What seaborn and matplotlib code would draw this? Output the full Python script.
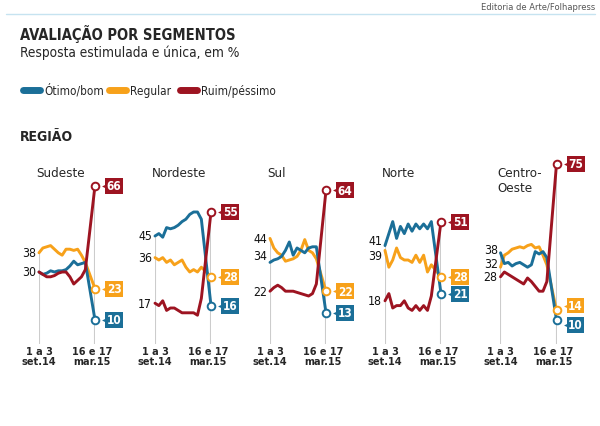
import matplotlib
matplotlib.use('Agg')
import matplotlib.pyplot as plt
import pandas as pd
import seaborn as sns
from matplotlib.lines import Line2D
from matplotlib.transforms import offset_copy

# poll positions (13 tracking polls set-dez/14, then mar/15)
poll_pos = [0, 1, 2, 3, 4, 5, 6, 7, 8, 9, 10, 11, 12, 14.5]

segments = ['Ótimo/bom', 'Regular', 'Ruim/péssimo']
colors = {'Ótimo/bom': '#1b6f98', 'Regular': '#f7a11a', 'Ruim/péssimo': '#9d1421'}

regions = ['Sudeste', 'Nordeste', 'Sul', 'Norte', 'Centro-\nOeste']

sudeste_otimo = [30, 29, 29.5, 30.5, 30, 30.5, 30.5, 31, 32.5, 34.5, 33, 33.5, 34, 10]
sudeste_regular = [38, 40, 40.5, 41, 39.5, 38, 37, 39.5, 39.5, 39, 39.5, 37, 34, 23]
sudeste_ruim = [30, 29, 28, 28, 28.5, 29.5, 30, 30, 28, 25, 26.5, 28, 31, 66]

nordeste_otimo = [45, 46, 44.5, 48.5, 48, 48.5, 49.5, 51, 52, 54, 55, 55, 52, 16]
nordeste_regular = [36, 35, 36, 34, 35, 33, 34, 35, 32, 30, 31, 30, 32, 28]
nordeste_ruim = [17, 16, 18, 14, 15, 15, 14, 13, 13, 13, 13, 12, 19, 55]

sul_otimo = [34, 35, 35.5, 36.5, 39, 42.5, 37, 40, 39, 38, 40, 40.5, 40.5, 13]
sul_regular = [44, 40, 38, 37, 34.5, 35, 35.5, 36.5, 39, 43.5, 39, 38, 35.5, 22]
sul_ruim = [22, 23.5, 24.5, 23.5, 22, 22, 22, 21.5, 21, 20.5, 20, 21, 25, 64]

norte_otimo = [41, 46, 51, 44, 49, 46, 50, 47, 50, 48, 50, 48, 51, 21]
norte_regular = [39, 32, 35, 40, 36, 35, 35, 34, 37, 34, 37, 30, 33, 28]
norte_ruim = [18, 21, 15, 16, 16, 18, 15, 14, 16, 14, 16, 14, 20, 51]

co_otimo = [38, 33.5, 34, 32.5, 33.5, 34, 33, 32, 33, 38.5, 37.5, 38.5, 36, 10]
co_regular = [32, 37, 38, 39.5, 40, 40.5, 40, 41, 41.5, 40, 40.5, 37, 33, 14]
co_ruim = [28, 30, 29, 28, 27, 26, 25, 27.5, 26, 24, 22, 22, 26, 75]

region_data = [
    (sudeste_otimo, sudeste_regular, sudeste_ruim),
    (nordeste_otimo, nordeste_regular, nordeste_ruim),
    (sul_otimo, sul_regular, sul_ruim),
    (norte_otimo, norte_regular, norte_ruim),
    (co_otimo, co_regular, co_ruim),
]

# label nudges (points): start labels / end boxes
start_shift = [(0, 0, 0), (0, 0, 0), (5, 0, 0), (4, -4, 0), (2.5, 2.5, 0)]
end_shift = [(0, 0, 0), (0, 0, 0), (0, 0, 0), (0, 0, 0), (-3.5, 3.5, 0)]

sns.set_theme(style='white')
plt.rcParams['font.family'] = ['DejaVu Sans']
plt.rcParams['font.stretch'] = 'condensed'

W, H = 600, 427
fig = plt.figure(figsize=(W / 100, H / 100), dpi=100)


def fx(px):
    return px / W


def fy(py):
    return 1 - py / H


# header
fig.text(fx(595), fy(7), 'Editoria de Arte/Folhapress', ha='right', va='center',
         fontsize=6, color='#555555', fontstretch='normal')
fig.add_artist(Line2D([fx(6), fx(595)], [fy(15), fy(15)], color='#c6e3f0', lw=1))
fig.text(fx(20), fy(34), 'AVALIAÇÃO POR SEGMENTOS', ha='left', va='center',
         fontsize=10.5, fontweight='bold')
fig.text(fx(20), fy(53), 'Resposta estimulada e única, em %', ha='left', va='center',
         fontsize=9.8)

# legend
leg_x = [(23, 40, 44), (109, 126, 130), (180, 197, 201)]
for seg, (x0, x1, xt) in zip(segments, leg_x):
    fig.add_artist(Line2D([fx(x0), fx(x1)], [fy(91), fy(91)], color=colors[seg],
                          lw=5, solid_capstyle='round'))
    fig.text(fx(xt), fy(91), seg, ha='left', va='center', fontsize=8.5)

fig.text(fx(20), fy(137), 'REGIÃO', ha='left', va='center', fontsize=10, fontweight='bold')

left_lines = [39, 155, 270, 385, 500.5]
panel_w = 56
last_x = poll_pos[-1]

for name, series, lx, s_shift, e_shift in zip(regions, region_data, left_lines,
                                              start_shift, end_shift):
    ax = fig.add_axes([fx(lx), fy(345), panel_w / W, 192 / H])
    df = pd.DataFrame({
        'pos': poll_pos * 3,
        'valor': series[0] + series[1] + series[2],
        'segmento': [s for s in segments for _ in poll_pos],
    })
    firsts = [s[0] for s in series]
    lasts = [s[-1] for s in series]
    ax.vlines(0, 0, max(firsts), color='#cccccc', lw=1.5, zorder=0)
    ax.vlines(last_x, 0, max(lasts), color='#cccccc', lw=1.5, zorder=0)

    sns.lineplot(data=df, x='pos', y='valor', hue='segmento',
                 hue_order=['Regular', 'Ótimo/bom', 'Ruim/péssimo'],
                 palette=colors, linewidth=2.1, legend=False, ax=ax)
    for line in ax.lines:
        line.set_clip_on(False)
        line.set_solid_joinstyle('round')

    shown = set()
    for k, seg in enumerate(segments):
        c = colors[seg]
        v0, v1 = series[k][0], series[k][-1]
        if v0 not in shown:
            ax.annotate(f'{v0:g}', xy=(0, v0), xytext=(-2, s_shift[k]),
                        textcoords='offset points', ha='right', va='center',
                        fontsize=8.8, color='#111111')
            shown.add(v0)
        ax.plot(last_x, v1, 'o', mfc='white', mec=c, ms=5.5, mew=1.4,
                clip_on=False, zorder=6)
        tr = offset_copy(ax.transData, fig=fig, x=6.5, y=e_shift[k], units='points')
        ax.plot(last_x, v1, marker='<', color=c, ms=3.5, mew=0, transform=tr,
                clip_on=False, zorder=6)
        ax.annotate(f'{v1:g}', xy=(last_x, v1), xytext=(8.5, e_shift[k]),
                    textcoords='offset points', ha='left', va='center',
                    fontsize=8.5, fontweight='bold', color='white',
                    bbox=dict(boxstyle='square,pad=0.12', fc=c, ec='none'))

    ax.set_xlim(0, last_x)
    ax.set_ylim(0, 80)
    ax.axis('off')

    fig.text(fx(lx - 3), fy(167), name, ha='left', va='top', fontsize=9.5,
             linespacing=1.2)
    fig.text(fx(lx), fy(347), '1 a 3\nset.14', ha='center', va='top',
             fontsize=7.8, fontweight='bold', linespacing=1.05)
    fig.text(fx(lx + panel_w - 3), fy(347), '16 e 17\nmar.15', ha='center', va='top',
             fontsize=7.8, fontweight='bold', linespacing=1.05)

fig.savefig('out.png', dpi=100)
